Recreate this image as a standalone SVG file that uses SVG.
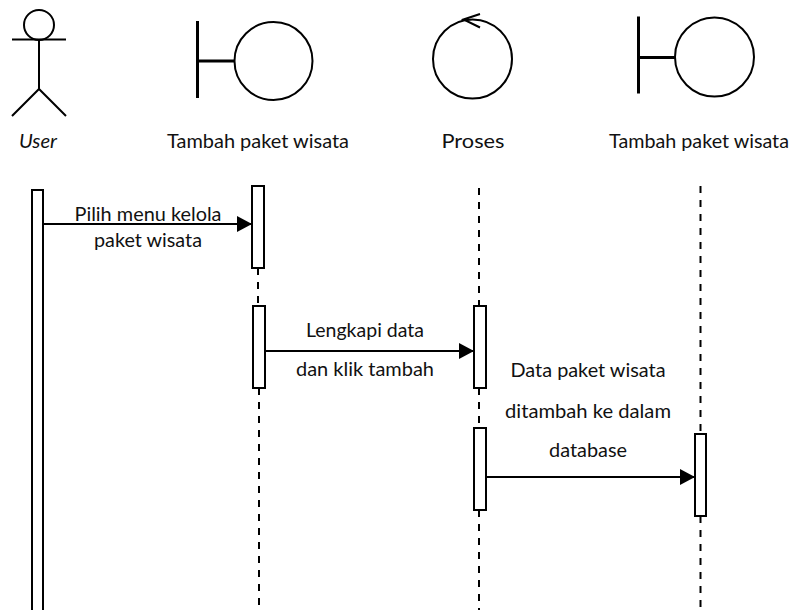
<svg xmlns="http://www.w3.org/2000/svg" width="795" height="610" viewBox="0 0 795 610">
<style>
.s{fill:none;stroke:#000;stroke-width:2}
.act{fill:#fff;stroke:#000;stroke-width:2}
.life{fill:none;stroke:#000;stroke-width:2;stroke-dasharray:7 7}
.msg{fill:none;stroke:#000;stroke-width:2}
.t{font-family:Lato,"Liberation Sans",sans-serif;font-size:19px;fill:#111;text-anchor:middle}
.it{font-style:italic}
</style>
<defs>
<marker id="ah" markerWidth="15" markerHeight="16" refX="15" refY="8" orient="auto" markerUnits="userSpaceOnUse">
<path d="M0,0 L15,8 L0,16 Z" fill="#000"/>
</marker>
</defs>
<rect width="795" height="610" fill="#fff"/>
<g id="user">
<circle class="s" cx="39" cy="25" r="15"/>
<line class="s" x1="12" y1="39.5" x2="66" y2="39.5"/>
<line class="s" x1="39" y1="40" x2="39" y2="89"/>
<polyline class="s" points="12,116 39,89 66,116"/>
<text class="t it" x="38" y="148" textLength="38" lengthAdjust="spacingAndGlyphs">User</text>
<rect class="act" x="32" y="190" width="11" height="440"/>
</g>
<g id="tambah1">
<line x1="197.5" y1="21" x2="197.5" y2="98" stroke="#000" stroke-width="3"/>
<line x1="197" y1="61" x2="234" y2="61" stroke="#000" stroke-width="3"/>
<circle class="s" cx="273.5" cy="61" r="39"/>
<text class="t" x="258" y="148" textLength="182" lengthAdjust="spacingAndGlyphs">Tambah paket wisata</text>
<line class="life" x1="258" y1="268" x2="258" y2="306"/>
<line class="life" x1="259" y1="388" x2="259" y2="615"/>
<rect class="act" x="252" y="186" width="12" height="82"/>
<rect class="act" x="253" y="306" width="12" height="82"/>
</g>
<g id="proses">
<circle class="s" cx="472.5" cy="59" r="39.5"/>
<polyline class="s" points="480,14 463.5,19.5 480,27.5"/>
<text class="t" x="473" y="148" textLength="63" lengthAdjust="spacingAndGlyphs">Proses</text>
<line class="life" x1="479" y1="188" x2="479" y2="306"/>
<line class="life" x1="479" y1="388" x2="479" y2="428"/>
<line class="life" x1="479" y1="510" x2="479" y2="615"/>
<rect class="act" x="474" y="306" width="12" height="82"/>
<rect class="act" x="474" y="428" width="12" height="82"/>
</g>
<g id="tambah2">
<line x1="638.5" y1="16.5" x2="638.5" y2="93.5" stroke="#000" stroke-width="3"/>
<line x1="638" y1="57.5" x2="675" y2="57.5" stroke="#000" stroke-width="3"/>
<circle class="s" cx="714.5" cy="57" r="39.5"/>
<text class="t" x="699" y="148" textLength="180" lengthAdjust="spacingAndGlyphs">Tambah paket wisata</text>
<line class="life" x1="700.5" y1="186" x2="700.5" y2="434"/>
<line class="life" x1="700.5" y1="516" x2="700.5" y2="615"/>
<rect class="act" x="695" y="434" width="11" height="82"/>
</g>
<g id="connectors">
<line class="msg" x1="43" y1="224" x2="252" y2="224" marker-end="url(#ah)"/>
<line class="msg" x1="265" y1="351" x2="474" y2="351" marker-end="url(#ah)"/>
<line class="msg" x1="486" y1="477" x2="695" y2="477" marker-end="url(#ah)"/>
</g>
<g id="labels">
<text class="t" x="148" y="221" textLength="147" lengthAdjust="spacingAndGlyphs">Pilih menu kelola</text>
<text class="t" x="148" y="247" textLength="108" lengthAdjust="spacingAndGlyphs">paket wisata</text>
<text class="t" x="365" y="337" textLength="118" lengthAdjust="spacingAndGlyphs">Lengkapi data</text>
<text class="t" x="365" y="376" textLength="138" lengthAdjust="spacingAndGlyphs">dan klik tambah</text>
<text class="t" x="588" y="377" textLength="155" lengthAdjust="spacingAndGlyphs">Data paket wisata</text>
<text class="t" x="588" y="418" textLength="166" lengthAdjust="spacingAndGlyphs">ditambah ke dalam</text>
<text class="t" x="588" y="457" textLength="78" lengthAdjust="spacingAndGlyphs">database</text>
</g>
</svg>
